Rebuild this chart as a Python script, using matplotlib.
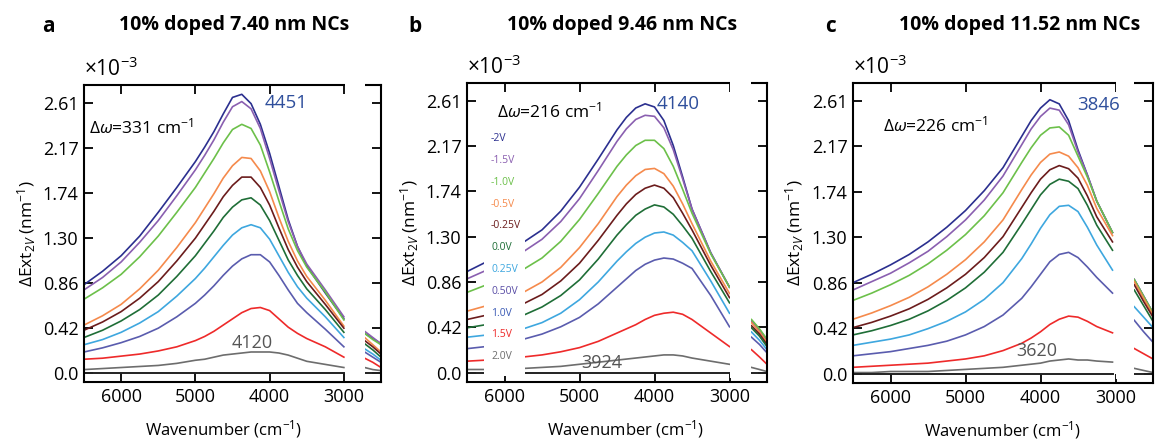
import numpy as np
import matplotlib
matplotlib.use('Agg')
import matplotlib.pyplot as plt
from matplotlib.patches import Rectangle
import matplotlib.transforms as mtransforms

plt.rcParams['font.family'] = ['Open Sans', 'DejaVu Sans']
plt.rcParams['mathtext.fontset'] = 'custom'
plt.rcParams['mathtext.rm'] = 'Open Sans'
plt.rcParams['mathtext.it'] = 'Open Sans:italic'

# curve colours, top to bottom
colors = ['#2b2f8f', '#8a5fb0', '#6cc04a', '#f58a4c', '#6b1c1c',
          '#1f6e37', '#3ea7df', '#5a5cae', '#ee2a2a', '#6d6d6d']
voltages = ['-2V', '-1.5V', '-1.0V', '-0.5V', '-0.25V', '0.0V',
            '0.25V', '0.50V', '1.0V', '1.5V', '2.0V']
voltage_colors = ['#2b2f8f', '#8a5fb0', '#6cc04a', '#f58a4c', '#6b1c1c',
                  '#1f6e37', '#3ea7df', '#5a4ea6', '#3b5bb5', '#ee2a2a', '#6d6d6d']

yticks = [0.0, 0.435, 0.87, 1.305, 1.74, 2.175, 2.61]
ytick_labels = ['0.0', '0.42', '0.86', '1.30', '1.74', '2.17', '2.61']
xticks = [6000, 5000, 4000, 3000]

# ---- panel a: 10% doped 7.40 nm NCs (values x1e-3 nm^-1)
a_w = [6500, 6250, 6000, 5750, 5500, 5250, 5000, 4875, 4750, 4625, 4500,
       4375, 4250, 4125, 4000, 3875, 3750, 3625, 3500, 3250, 3000]
a_main = [
    [0.85, 0.98, 1.13, 1.32, 1.55, 1.79, 2.04, 2.18, 2.33, 2.50, 2.66, 2.69, 2.60, 2.40, 2.12, 1.80, 1.48, 1.22, 1.03, 0.77, 0.52],
    [0.80, 0.92, 1.07, 1.26, 1.47, 1.71, 1.96, 2.10, 2.25, 2.42, 2.57, 2.62, 2.55, 2.36, 2.07, 1.76, 1.46, 1.22, 1.05, 0.80, 0.54],
    [0.71, 0.82, 0.95, 1.12, 1.32, 1.55, 1.79, 1.93, 2.07, 2.22, 2.35, 2.40, 2.36, 2.20, 1.94, 1.66, 1.39, 1.18, 1.02, 0.78, 0.51],
    [0.46, 0.55, 0.66, 0.81, 0.99, 1.21, 1.45, 1.59, 1.73, 1.88, 2.00, 2.08, 2.07, 1.95, 1.75, 1.50, 1.27, 1.08, 0.93, 0.70, 0.45],
    [0.41, 0.49, 0.59, 0.72, 0.88, 1.08, 1.30, 1.43, 1.56, 1.70, 1.81, 1.89, 1.89, 1.79, 1.62, 1.40, 1.19, 1.02, 0.88, 0.66, 0.43],
    [0.34, 0.41, 0.50, 0.61, 0.75, 0.93, 1.13, 1.25, 1.37, 1.50, 1.60, 1.67, 1.69, 1.62, 1.47, 1.28, 1.09, 0.94, 0.81, 0.61, 0.39],
    [0.27, 0.32, 0.39, 0.48, 0.59, 0.74, 0.91, 1.01, 1.12, 1.23, 1.33, 1.40, 1.43, 1.40, 1.29, 1.13, 0.97, 0.83, 0.72, 0.54, 0.34],
    [0.20, 0.24, 0.29, 0.35, 0.43, 0.54, 0.67, 0.75, 0.84, 0.94, 1.03, 1.10, 1.14, 1.14, 1.07, 0.94, 0.80, 0.67, 0.58, 0.42, 0.25],
    [0.13, 0.14, 0.16, 0.18, 0.21, 0.25, 0.31, 0.35, 0.40, 0.46, 0.52, 0.58, 0.62, 0.63, 0.60, 0.52, 0.44, 0.38, 0.33, 0.25, 0.15],
    [0.03, 0.04, 0.05, 0.06, 0.07, 0.09, 0.12, 0.13, 0.15, 0.17, 0.18, 0.19, 0.20, 0.20, 0.20, 0.19, 0.17, 0.14, 0.11, 0.08, 0.05],
]
a_tail_w = [2720, 2610, 2500]
a_tail = [
    [0.38, 0.33, 0.28], [0.40, 0.34, 0.28], [0.38, 0.32, 0.27], [0.34, 0.27, 0.20],
    [0.31, 0.25, 0.18], [0.28, 0.22, 0.15], [0.23, 0.18, 0.12], [0.20, 0.15, 0.10],
    [0.14, 0.10, 0.05], [0.05, 0.03, 0.02],
]

# ---- panel b: 10% doped 9.46 nm NCs
b_w = [6500, 6250, 6000, 5750, 5500, 5250, 5000, 4750, 4500, 4375,
       4250, 4125, 4000, 3875, 3750, 3625, 3500, 3250, 3000]
b_main = [
    [0.97, 1.06, 1.15, 1.25, 1.37, 1.55, 1.78, 2.05, 2.33, 2.45, 2.54, 2.58, 2.55, 2.42, 2.18, 1.88, 1.57, 1.15, 0.82],
    [0.90, 0.98, 1.07, 1.16, 1.28, 1.45, 1.67, 1.94, 2.22, 2.34, 2.43, 2.47, 2.46, 2.35, 2.14, 1.86, 1.57, 1.15, 0.82],
    [0.77, 0.84, 0.91, 0.99, 1.10, 1.26, 1.47, 1.72, 1.98, 2.09, 2.18, 2.23, 2.23, 2.15, 1.98, 1.76, 1.53, 1.14, 0.82],
    [0.59, 0.64, 0.70, 0.77, 0.87, 1.01, 1.20, 1.43, 1.69, 1.80, 1.89, 1.95, 1.96, 1.91, 1.79, 1.62, 1.43, 1.07, 0.76],
    [0.51, 0.55, 0.60, 0.66, 0.75, 0.88, 1.05, 1.27, 1.51, 1.62, 1.71, 1.77, 1.80, 1.77, 1.68, 1.53, 1.37, 1.03, 0.72],
    [0.43, 0.46, 0.50, 0.55, 0.63, 0.74, 0.89, 1.09, 1.32, 1.42, 1.51, 1.57, 1.61, 1.59, 1.52, 1.41, 1.29, 0.97, 0.67],
    [0.34, 0.36, 0.39, 0.42, 0.48, 0.57, 0.70, 0.87, 1.07, 1.16, 1.24, 1.30, 1.34, 1.35, 1.32, 1.25, 1.17, 0.88, 0.57],
    [0.23, 0.25, 0.28, 0.32, 0.37, 0.44, 0.53, 0.66, 0.82, 0.90, 0.98, 1.04, 1.08, 1.10, 1.09, 1.05, 1.00, 0.74, 0.44],
    [0.11, 0.12, 0.13, 0.15, 0.17, 0.20, 0.24, 0.30, 0.38, 0.42, 0.46, 0.51, 0.55, 0.57, 0.58, 0.56, 0.51, 0.38, 0.25],
    [0.03, 0.03, 0.04, 0.04, 0.05, 0.06, 0.08, 0.10, 0.12, 0.13, 0.14, 0.15, 0.16, 0.17, 0.17, 0.16, 0.14, 0.11, 0.08],
]
b_tail_w = [2707, 2600, 2500]
b_tail = [
    [0.50, 0.41, 0.31], [0.50, 0.41, 0.32], [0.51, 0.42, 0.32], [0.48, 0.39, 0.29],
    [0.45, 0.37, 0.27], [0.43, 0.35, 0.25], [0.39, 0.31, 0.22], [0.34, 0.27, 0.19],
    [0.22, 0.15, 0.08], [0.05, 0.03, 0.01],
]

# ---- panel c: 10% doped 11.52 nm NCs
c_w = [6500, 6250, 6000, 5750, 5500, 5250, 5000, 4750, 4500, 4250,
       4125, 4000, 3875, 3750, 3625, 3500, 3375, 3250, 3040]
c_main = [
    [0.87, 0.95, 1.04, 1.14, 1.26, 1.40, 1.56, 1.75, 1.97, 2.27, 2.42, 2.54, 2.62, 2.58, 2.42, 2.14, 1.90, 1.65, 1.35],
    [0.80, 0.88, 0.96, 1.06, 1.17, 1.31, 1.47, 1.66, 1.89, 2.19, 2.34, 2.46, 2.54, 2.52, 2.38, 2.12, 1.90, 1.65, 1.35],
    [0.70, 0.77, 0.85, 0.94, 1.05, 1.18, 1.33, 1.51, 1.73, 2.02, 2.16, 2.28, 2.35, 2.36, 2.28, 2.08, 1.88, 1.65, 1.35],
    [0.52, 0.58, 0.65, 0.73, 0.83, 0.95, 1.09, 1.26, 1.47, 1.76, 1.90, 2.02, 2.10, 2.12, 2.08, 1.97, 1.80, 1.58, 1.32],
    [0.44, 0.49, 0.55, 0.62, 0.71, 0.82, 0.95, 1.11, 1.31, 1.59, 1.73, 1.86, 1.95, 1.99, 1.96, 1.87, 1.70, 1.50, 1.26],
    [0.37, 0.41, 0.46, 0.52, 0.60, 0.70, 0.82, 0.97, 1.16, 1.43, 1.57, 1.71, 1.81, 1.86, 1.84, 1.77, 1.61, 1.42, 1.18],
    [0.27, 0.30, 0.33, 0.37, 0.43, 0.50, 0.59, 0.71, 0.87, 1.10, 1.24, 1.39, 1.52, 1.60, 1.61, 1.55, 1.40, 1.23, 0.99],
    [0.17, 0.19, 0.21, 0.24, 0.27, 0.31, 0.37, 0.45, 0.56, 0.72, 0.83, 0.95, 1.07, 1.14, 1.16, 1.11, 1.02, 0.92, 0.77],
    [0.06, 0.07, 0.08, 0.09, 0.10, 0.12, 0.14, 0.17, 0.22, 0.29, 0.34, 0.40, 0.47, 0.52, 0.55, 0.54, 0.50, 0.45, 0.39],
    [0.01, 0.01, 0.02, 0.02, 0.02, 0.03, 0.04, 0.05, 0.06, 0.08, 0.09, 0.10, 0.12, 0.13, 0.14, 0.13, 0.13, 0.12, 0.11],
]
c_tail_w = [2750, 2625, 2500]
c_tail = [
    [0.90, 0.74, 0.58], [0.90, 0.74, 0.58], [0.90, 0.74, 0.58], [0.88, 0.72, 0.56],
    [0.85, 0.69, 0.54], [0.80, 0.65, 0.50], [0.64, 0.54, 0.44], [0.51, 0.40, 0.30],
    [0.24, 0.19, 0.14], [0.05, 0.03, 0.01],
]

panels = [
    dict(letter='a', title='10% doped 7.40 nm NCs', rect=[84, 85, 381, 382],
         w=a_w, main=a_main, tw=a_tail_w, tail=a_tail,
         dw='331', dw_pos=(6430, 2.37), peak='4451', peak_pos=(4070, 2.61),
         low='4120', low_pos=(4232, 0.29), letter_x=48, title_x=234, xlab_x=0.47),
    dict(letter='b', title='10% doped 9.46 nm NCs', rect=[467, 83, 767, 382],
         w=b_w, main=b_main, tw=b_tail_w, tail=b_tail,
         dw='216', dw_pos=(6100, 2.51), peak='4140', peak_pos=(3967, 2.58),
         low='3924', low_pos=(4700, 0.09), letter_x=415, title_x=622, xlab_x=0.53),
    dict(letter='c', title='10% doped 11.52 nm NCs', rect=[853, 83, 1153, 383],
         w=c_w, main=c_main, tw=c_tail_w, tail=c_tail,
         dw='226', dw_pos=(6100, 2.37), peak='3846', peak_pos=(3513, 2.57),
         low='3620', low_pos=(4047, 0.22), letter_x=831, title_x=1020, xlab_x=0.5),
]

W, H = 1156, 442
fig = plt.figure(figsize=(W / 100, H / 100), dpi=100)

for p in panels:
    x0, y0, x1, y1 = p['rect']
    ax = fig.add_axes([x0 / W, 1 - y1 / H, (x1 - x0) / W, (y1 - y0) / H])
    ax.set_xlim(6500, 2500)
    ax.set_ylim(-0.09, 2.78)

    for vals, tvals, col in zip(p['main'], p['tail'], colors):
        ax.plot(p['w'], vals, color=col, lw=1.2, zorder=2)
        ax.plot(p['tw'], tvals, color=col, lw=1.2, zorder=2)
    # zero baseline
    ax.plot([p['w'][0], p['w'][-1]], [0, 0], color='#222222', lw=1.4, zorder=2)
    ax.plot([p['tw'][0], p['tw'][-1]], [0, 0], color='#222222', lw=1.4, zorder=2)

    # white gap between the two spectral windows
    trans = mtransforms.blended_transform_factory(ax.transData, ax.transAxes)
    ax.add_patch(Rectangle((2990, 0.015), p['tw'][0] - 2990, 1.0, transform=trans,
                           facecolor='white', edgecolor='none', zorder=3, clip_on=False))

    ax.set_yticks(yticks)
    ax.set_yticklabels(ytick_labels)
    ax.set_xticks(xticks)
    ax.set_xticklabels([str(t) for t in xticks])
    ax.tick_params(direction='in', length=6.5, width=1.3, labelsize=13,
                   top=True, right=True, pad=4)
    for s in ax.spines.values():
        s.set_linewidth(1.5)

    ax.set_xlabel('Wavenumber (cm$^{-1}$)', fontsize=12)
    ax.xaxis.set_label_coords(p['xlab_x'], -0.12)
    ax.set_ylabel(r'$\Delta$Ext$_{2V}$ (nm$^{-1}$)', fontsize=12.5)
    ax.yaxis.set_label_coords(-0.155, 0.5)

    ax.text(0.0, 1.015, r'×10$^{\mathregular{-3}}$', transform=ax.transAxes, fontsize=15,
            ha='left', va='bottom')

    ax.text(*p['dw_pos'], r'$\Delta\it{\omega}$=' + p['dw'] + r' cm$^{-1}$', fontsize=12.5,
            ha='left', va='center', zorder=5)
    ax.text(*p['peak_pos'], p['peak'], fontsize=13.5, color='#2f4f9c',
            ha='left', va='center', zorder=5)
    ax.text(*p['low_pos'], p['low'], fontsize=13, color='#555555',
            ha='center', va='center', zorder=5)

    fig.text(p['letter_x'] / W, 1 - 27 / H, p['letter'], fontsize=15,
             fontweight='bold', ha='center', va='center')
    fig.text(p['title_x'] / W, 1 - 25 / H, p['title'], fontsize=14,
             fontweight='bold', ha='center', va='center')

    if p['letter'] == 'b':
        ax.add_patch(Rectangle((6267, -0.03), 5733 - 6267, 2.48,
                               facecolor='white', edgecolor='none', zorder=3))
        for i, (v, vc) in enumerate(zip(voltages, voltage_colors)):
            ypx = 138 + i * 21.9
            ax.text(6180, (373 - ypx) / 104.6, v, color=vc, fontsize=7.5,
                    ha='left', va='center', zorder=5)

fig.savefig('out.png', dpi=100)
